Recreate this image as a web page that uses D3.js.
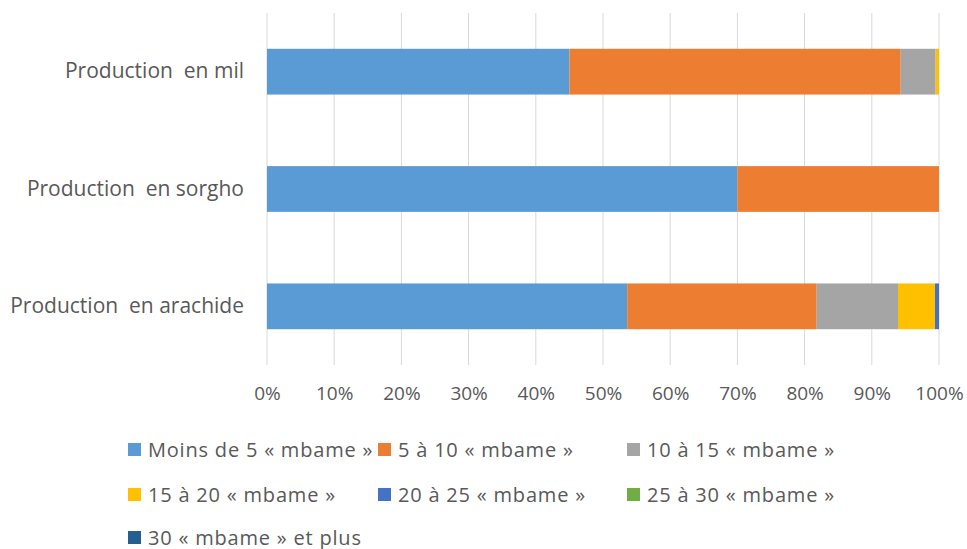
<!DOCTYPE html>
<html>
<head>
<meta charset="utf-8">
<script src="https://cdn.jsdelivr.net/npm/d3@7"></script>
<style>
  body { margin: 0; background: #fff; }
  svg text { font-family: "Open Sans", sans-serif; fill: #595959; white-space: pre; }
</style>
</head>
<body>
<div id="chart"></div>
<script>
// categories, top to bottom
const categories = ["Production  en mil", "Production  en sorgho", "Production  en arachide"];

const seriesNames = [
    "Moins de 5 « mbame »", "5 à 10 « mbame »", "10 à 15 « mbame »",
    "15 à 20 « mbame »", "20 à 25 « mbame »", "25 à 30 « mbame »",
    "30 « mbame » et plus"
];
const seriesColors = ["#5b9bd5", "#ed7d31", "#a5a5a5", "#ffc000", "#4472c4", "#70ad47", "#255e91"];

// percentages per series, in category order
const moins5  = [45.0, 70.0, 53.6];
const s5_10   = [49.3, 30.0, 28.2];
const s10_15  = [5.2, 0, 12.1];
const s15_20  = [0.5, 0, 5.5];
const s20_25  = [0, 0, 0.6];
const s25_30  = [0, 0, 0];
const s30plus = [0, 0, 0];

const tickValues = [0, 10, 20, 30, 40, 50, 60, 70, 80, 90, 100];

const width = 967, height = 549;
const margin = { top: 13, right: 28, bottom: 184, left: 267 };

const svg = d3.select("#chart").append("svg")
    .attr("width", width)
    .attr("height", height);

const allSeries = [moins5, s5_10, s10_15, s15_20, s20_25, s25_30, s30plus];
const rows = categories.map((c, i) => {
    const r = { cat: c };
    seriesNames.forEach((s, j) => r[s] = allSeries[j][i]);
    return r;
});
const stacked = d3.stack().keys(seriesNames)(rows);

const x = d3.scaleLinear().domain([0, 100]).range([margin.left, width - margin.right]);
const y = d3.scaleBand().domain(categories)
    .range([margin.top, height - margin.bottom])
    .paddingInner(0.61).paddingOuter(0.305);

// gridlines
svg.append("g")
    .selectAll("line")
    .data(tickValues)
    .enter().append("line")
    .attr("x1", d => x(d)).attr("x2", d => x(d))
    .attr("y1", margin.top).attr("y2", height - margin.bottom)
    .attr("stroke", "#d9d9d9")
    .attr("stroke-width", 1);

// bars
svg.append("g")
    .selectAll("g")
    .data(stacked)
    .enter().append("g")
    .attr("fill", (d, i) => seriesColors[i])
    .selectAll("rect")
    .data(d => d)
    .enter().append("rect")
    .attr("x", d => x(d[0]))
    .attr("width", d => x(d[1]) - x(d[0]))
    .attr("y", d => y(d.data.cat))
    .attr("height", y.bandwidth());

// x axis
const xAxis = svg.append("g")
    .attr("transform", `translate(0,${height - margin.bottom})`)
    .call(d3.axisBottom(x).tickValues(tickValues).tickFormat(d => d + "%").tickSize(0).tickPadding(22));
xAxis.select(".domain").remove();
xAxis.selectAll("text").style("font-size", "19px").attr("fill", "#595959");

// y axis labels
const yAxis = svg.append("g")
    .attr("transform", `translate(${margin.left},0)`)
    .call(d3.axisLeft(y).tickSize(0).tickPadding(23));
yAxis.select(".domain").remove();
yAxis.selectAll("text").style("font-size", "21px").attr("fill", "#595959");

// legend
const legendCols = [128, 378, 627];
const legendRows = [450, 495, 538];
const legend = svg.append("g")
    .selectAll("g")
    .data(seriesNames)
    .enter().append("g")
    .attr("transform", (d, i) => `translate(${legendCols[i % 3]},${legendRows[Math.floor(i / 3)]})`);
legend.append("rect")
    .attr("x", 0).attr("y", -7)
    .attr("width", 13).attr("height", 13)
    .attr("fill", (d, i) => seriesColors[i]);
legend.append("text")
    .attr("x", 20).attr("y", 0)
    .attr("dy", "0.35em")
    .style("font-size", "20px")
    .style("letter-spacing", "0.8px")
    .text(d => d);
</script>
</body>
</html>
